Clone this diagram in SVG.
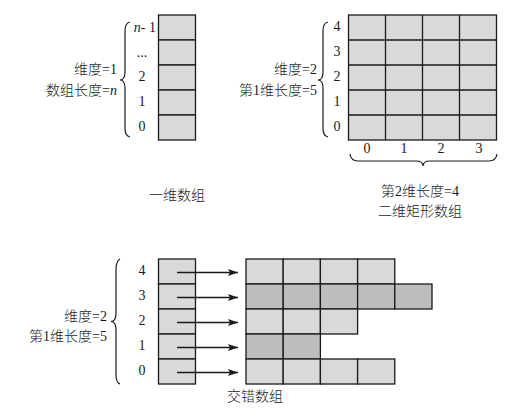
<svg xmlns="http://www.w3.org/2000/svg" width="515" height="410" viewBox="0 0 515 410">
<style>
.c{fill:#d9d9d9;stroke:#1a1a1a;stroke-width:1.3}
.d{fill:#bdbdbd;stroke:#1a1a1a;stroke-width:1.3}
.br{fill:none;stroke:#1a1a1a;stroke-width:1.2}
.t{font-family:"Liberation Serif","Noto Sans CJK SC",serif;font-size:14px;font-weight:300;fill:#1a1a1a}
.n{font-family:"Liberation Serif",serif;font-size:14px;fill:#1a1a1a;text-anchor:middle}
.e{text-anchor:end}
.m{text-anchor:middle}
.ar{stroke:#1a1a1a;stroke-width:1.3;fill:none}
</style>
<defs>
<marker id="ah" markerUnits="userSpaceOnUse" markerWidth="12" markerHeight="8" refX="10" refY="4" orient="auto">
<path d="M10,4 L0,0.5 L2,4 L0,7.5 Z" fill="#1a1a1a"/>
</marker>
</defs>
<rect width="515" height="410" fill="#fff"/>

<g id="array1d">
<rect class="c" x="158.5" y="15" width="37" height="25"/>
<rect class="c" x="158.5" y="40" width="37" height="25"/>
<rect class="c" x="158.5" y="65" width="37" height="25"/>
<rect class="c" x="158.5" y="90" width="37" height="25"/>
<rect class="c" x="158.5" y="115" width="37" height="25"/>
<text class="n" x="156" y="32" style="text-anchor:end"><tspan font-style="italic">n</tspan>- 1</text>
<text class="n" x="142" y="57">...</text>
<text class="n" x="142" y="81">2</text>
<text class="n" x="142" y="106">1</text>
<text class="n" x="142" y="131">0</text>
<path class="br" d="M130,22 Q125,23 125,31 L125,72 Q125,80 120,80 Q125,80 125,88 L125,128 Q125,136 130,137"/>
<text class="t e" x="117" y="74">维度=1</text>
<text class="t e" x="117" y="95">数组长度=<tspan font-style="italic">n</tspan></text>
<text class="t m" x="177" y="200">一维数组</text>
</g>

<g id="array2d">
<rect class="c" x="348.5" y="15" width="148" height="125"/>
<path class="ar" d="M385.5,15 V140 M422.5,15 V140 M459.5,15 V140 M348.5,40 H496.5 M348.5,65 H496.5 M348.5,90 H496.5 M348.5,115 H496.5"/>
<text class="n" x="337" y="31">4</text>
<text class="n" x="337" y="56">3</text>
<text class="n" x="337" y="81">2</text>
<text class="n" x="337" y="106">1</text>
<text class="n" x="337" y="131">0</text>
<text class="n" x="367" y="153">0</text>
<text class="n" x="404" y="153">1</text>
<text class="n" x="441" y="153">2</text>
<text class="n" x="479" y="153">3</text>
<path class="br" d="M328,22 Q323,23 323,31 L323,72 Q323,80 318,80 Q323,80 323,88 L323,128 Q323,136 328,137"/>
<path class="br" d="M350,154 Q351,161 358,161 L416,161 Q423,161 423,166 Q423,161 430,161 L489,161 Q496,161 497,154"/>
<text class="t e" x="317" y="74">维度=2</text>
<text class="t e" x="317" y="95">第1维长度=5</text>
<text class="t m" x="420" y="196">第2维长度=4</text>
<text class="t m" x="420" y="216">二维矩形数组</text>
</g>

<g id="jagged">
<rect class="c" x="158.5" y="259" width="37" height="25"/>
<rect class="c" x="158.5" y="284" width="37" height="25"/>
<rect class="c" x="158.5" y="309" width="37" height="25"/>
<rect class="c" x="158.5" y="334" width="37" height="25"/>
<rect class="c" x="158.5" y="359" width="37" height="25"/>
<text class="n" x="142" y="275">4</text>
<text class="n" x="142" y="300">3</text>
<text class="n" x="142" y="325">2</text>
<text class="n" x="142" y="350">1</text>
<text class="n" x="142" y="375">0</text>
<path class="br" d="M120,259 Q116,261 116,270 L116,313 Q116,321.5 111,321.5 Q116,321.5 116,330 L116,374 Q116,383 120,384"/>
<text class="t e" x="107" y="321">维度=2</text>
<text class="t e" x="107" y="341">第1维长度=5</text>

<rect class="c" x="246" y="259" width="37.2" height="25"/>
<rect class="c" x="283.2" y="259" width="37.2" height="25"/>
<rect class="c" x="320.4" y="259" width="37.2" height="25"/>
<rect class="c" x="357.6" y="259" width="37.2" height="25"/>

<rect class="d" x="246" y="284" width="37.2" height="25"/>
<rect class="d" x="283.2" y="284" width="37.2" height="25"/>
<rect class="d" x="320.4" y="284" width="37.2" height="25"/>
<rect class="d" x="357.6" y="284" width="37.2" height="25"/>
<rect class="d" x="394.8" y="284" width="37.2" height="25"/>

<rect class="c" x="246" y="309" width="37.2" height="25"/>
<rect class="c" x="283.2" y="309" width="37.2" height="25"/>
<rect class="c" x="320.4" y="309" width="37.2" height="25"/>

<rect class="d" x="246" y="334" width="37.2" height="25"/>
<rect class="d" x="283.2" y="334" width="37.2" height="25"/>

<rect class="c" x="246" y="359" width="37.2" height="25"/>
<rect class="c" x="283.2" y="359" width="37.2" height="25"/>
<rect class="c" x="320.4" y="359" width="37.2" height="25"/>
<rect class="c" x="357.6" y="359" width="37.2" height="25"/>

<text class="t m" x="255" y="401">交错数组</text>
</g>

<g id="connectors">
<line class="ar" x1="177" y1="272.5" x2="238" y2="272.5" marker-end="url(#ah)"/>
<line class="ar" x1="177" y1="297.5" x2="238" y2="297.5" marker-end="url(#ah)"/>
<line class="ar" x1="177" y1="322.5" x2="238" y2="322.5" marker-end="url(#ah)"/>
<line class="ar" x1="177" y1="347.5" x2="238" y2="347.5" marker-end="url(#ah)"/>
<line class="ar" x1="177" y1="372.5" x2="238" y2="372.5" marker-end="url(#ah)"/>
</g>
</svg>
